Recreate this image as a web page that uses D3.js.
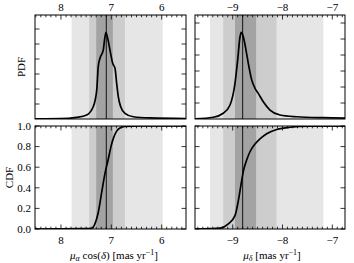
<!DOCTYPE html>
<html><head><meta charset="utf-8">
<script src="https://cdn.jsdelivr.net/npm/d3@7"></script>
<style>body{margin:0;background:#fff}svg{display:block}text{font-family:"Liberation Serif","DejaVu Serif",serif;fill:#000}</style>
</head><body>
<script>
// ---- data ----
const raTicks = [8, 7, 6];
const decTicks = [-9, -8, -7];
const cdfTicks = [0.0, 0.2, 0.4, 0.6, 0.8, 1.0];
const raMedian = 7.1;
const decMedian = -8.8;
const raBands = [[7.79, 5.98], [7.44, 6.73], [7.30, 6.97]];
const decBands = [[-9.456, -7.18], [-9.19, -8.12], [-8.954, -8.53]];
const raPdfX = [8.516, 8.02, 7.69, 7.49, 7.36, 7.29, 7.26, 7.225, 7.16, 7.126, 7.106, 7.08, 7.027, 6.973, 6.927, 6.894, 6.862, 6.814, 6.729, 6.564, 6.232, 5.517];
const raPdfY = [0.01, 0.02, 0.11, 0.27, 0.82, 1.93, 3.49, 4.05, 4.6, 5.49, 5.78, 5.49, 4.6, 3.71, 3.38, 2.38, 1.49, 0.82, 0.38, 0.15, 0.07, 0.03];
const decPdfX = [-9.757, -9.39, -9.19, -9.054, -8.954, -8.90, -8.853, -8.827, -8.787, -8.733, -8.687, -8.618, -8.552, -8.486, -8.386, -8.251, -8.05, -7.715, -7.18, -6.745];
const decPdfY = [0.01, 0.11, 0.36, 0.875, 2.23, 3.69, 5.14, 5.42, 5.14, 4.31, 3.48, 2.44, 1.92, 1.6, 1.08, 0.56, 0.25, 0.14, 0.08, 0.06];
const raCdfX = [8.516, 7.52, 7.39, 7.325, 7.26, 7.19, 7.126, 7.06, 7.007, 6.96, 6.894, 6.828, 6.729, 6.43, 5.517];
const raCdfY = [0.0, 0.003, 0.007, 0.05, 0.16, 0.36, 0.54, 0.68, 0.80, 0.88, 0.95, 0.98, 0.995, 1.0, 1.0];
const decCdfX = [-9.757, -9.456, -9.255, -9.088, -8.954, -8.888, -8.833, -8.787, -8.719, -8.653, -8.552, -8.452, -8.317, -8.116, -7.85, -7.45, -6.745];
const decCdfY = [0.0, 0.003, 0.008, 0.05, 0.13, 0.27, 0.43, 0.56, 0.67, 0.75, 0.825, 0.875, 0.925, 0.966, 0.988, 0.998, 1.0];

const W = 354, H = 263;
const svg = d3.select("body").append("svg").attr("width", W).attr("height", H);
const cols = [
  {x0: 35, x1: 186, dom: [8.516, 5.517], ticks: raTicks, med: raMedian, bands: raBands,
   pdf: [raPdfX, raPdfY], cdf: [raCdfX, raCdfY], pdfMax: 104/15},
  {x0: 195, x1: 345, dom: [-9.757, -6.745], ticks: decTicks, med: decMedian, bands: decBands,
   pdf: [decPdfX, decPdfY], cdf: [decCdfX, decCdfY], pdfMax: 6.5}
];
const rows = [{y0: 15, y1: 119, kind: "pdf"}, {y0: 126, y1: 229, kind: "cdf"}];
const bandColors = ["#e6e6e6", "#cdcdcd", "#a3a3a3"];
const fmt = d => d < 0 ? "\u2212" + Math.abs(d) : String(d);
let cid = 0;

cols.forEach((c, ci) => {
  const x = d3.scaleLinear().domain(c.dom).range([c.x0, c.x1]);
  const lo = Math.min(...c.dom), hi = Math.max(...c.dom);
  const minor = d3.range(Math.ceil(lo * 10), Math.floor(hi * 10) + 1).map(v => v / 10);
  rows.forEach((r, ri) => {
    const isPdf = r.kind === "pdf";
    const y = d3.scaleLinear().domain(isPdf ? [0, c.pdfMax] : [0, 1]).range([r.y1, r.y0]);
    const g = svg.append("g");
    const id = "clip" + (cid++);
    svg.append("clipPath").attr("id", id).append("rect")
      .attr("x", c.x0).attr("y", r.y0).attr("width", c.x1 - c.x0).attr("height", r.y1 - r.y0);
    const pg = g.append("g").attr("clip-path", `url(#${id})`);
    c.bands.forEach((b, bi) => {
      pg.append("rect").attr("x", Math.min(x(b[0]), x(b[1]))).attr("width", Math.abs(x(b[1]) - x(b[0])))
        .attr("y", r.y0).attr("height", r.y1 - r.y0).attr("fill", bandColors[bi]);
    });
    pg.append("line").attr("x1", x(c.med)).attr("x2", x(c.med)).attr("y1", r.y0).attr("y2", r.y1)
      .attr("stroke", "#000").attr("stroke-width", 0.9);
    const d = isPdf ? c.pdf : c.cdf;
    const pts = d[0].map((v, i) => [x(v), y(d[1][i])]);
    pg.append("path").attr("d", d3.line().curve(d3.curveMonotoneX)(pts))
      .attr("fill", "none").attr("stroke", "#000").attr("stroke-width", 1.7);

    // ticks (inward)
    const tg = g.append("g").attr("stroke", "#000").attr("stroke-width", 0.8);
    const xSides = isPdf ? [r.y0] : [r.y0, r.y1];
    xSides.forEach(yy => {
      const dir = yy === r.y0 ? 1 : -1;
      minor.forEach(v => {
        const major = c.ticks.some(t => Math.abs(t - v) < 1e-6);
        const len = major ? 4.5 : 2.3;
        tg.append("line").attr("x1", x(v)).attr("x2", x(v)).attr("y1", yy).attr("y2", yy + dir * len);
      });
    });
    const yt = isPdf ? d3.range(1, Math.floor(c.pdfMax) + 1).filter(v => y(v) > r.y0 + 1) : cdfTicks;
    yt.forEach(v => {
      tg.append("line").attr("x1", c.x0).attr("x2", c.x0 + 4.5).attr("y1", y(v)).attr("y2", y(v));
      tg.append("line").attr("x1", c.x1).attr("x2", c.x1 - 4.5).attr("y1", y(v)).attr("y2", y(v));
    });
    g.append("rect").attr("x", c.x0).attr("y", r.y0).attr("width", c.x1 - c.x0).attr("height", r.y1 - r.y0)
      .attr("fill", "none").attr("stroke", "#000").attr("stroke-width", 1);

    // labels
    if (isPdf) {
      c.ticks.forEach(t => g.append("text").attr("x", x(t)).attr("y", 11).attr("text-anchor", "middle")
        .attr("font-size", 11).text(fmt(t)));
    } else {
      c.ticks.forEach(t => g.append("text").attr("x", x(t)).attr("y", 244).attr("text-anchor", "middle")
        .attr("font-size", 11).text(fmt(t)));
    }
    if (ci === 0) {
      if (!isPdf) {
        cdfTicks.forEach(v => g.append("text").attr("x", 31).attr("y", y(v) + 3.8).attr("text-anchor", "end")
          .attr("font-size", 11).text(v.toFixed(1)));
      }
      const cy = (r.y0 + r.y1) / 2;
      const lx = isPdf ? 25 : 12.5;
      g.append("text").attr("transform", `translate(${lx},${cy}) rotate(-90)`).attr("text-anchor", "middle")
        .attr("font-size", 11).text(isPdf ? "PDF" : "CDF");
    }
  });
});

// x-axis titles
const t1 = svg.append("text").attr("x", 114).attr("y", 259).attr("text-anchor", "middle").attr("font-size", 11);
t1.append("tspan").attr("font-style", "italic").text("μ");
t1.append("tspan").attr("font-style", "italic").attr("font-size", 8).attr("dy", 2).text("α");
t1.append("tspan").attr("dy", -2).text(" cos(");
t1.append("tspan").attr("font-style", "italic").text("δ");
t1.append("tspan").text(") [mas yr");
t1.append("tspan").attr("font-size", 8).attr("dy", -4).text("−1");
t1.append("tspan").attr("dy", 4).text("]");
const t2 = svg.append("text").attr("x", 272).attr("y", 259).attr("text-anchor", "middle").attr("font-size", 11);
t2.append("tspan").attr("font-style", "italic").text("μ");
t2.append("tspan").attr("font-style", "italic").attr("font-size", 8).attr("dy", 2).text("δ");
t2.append("tspan").attr("dy", -2).text(" [mas yr");
t2.append("tspan").attr("font-size", 8).attr("dy", -4).text("−1");
t2.append("tspan").attr("dy", 4).text("]");
</script>
</body></html>
